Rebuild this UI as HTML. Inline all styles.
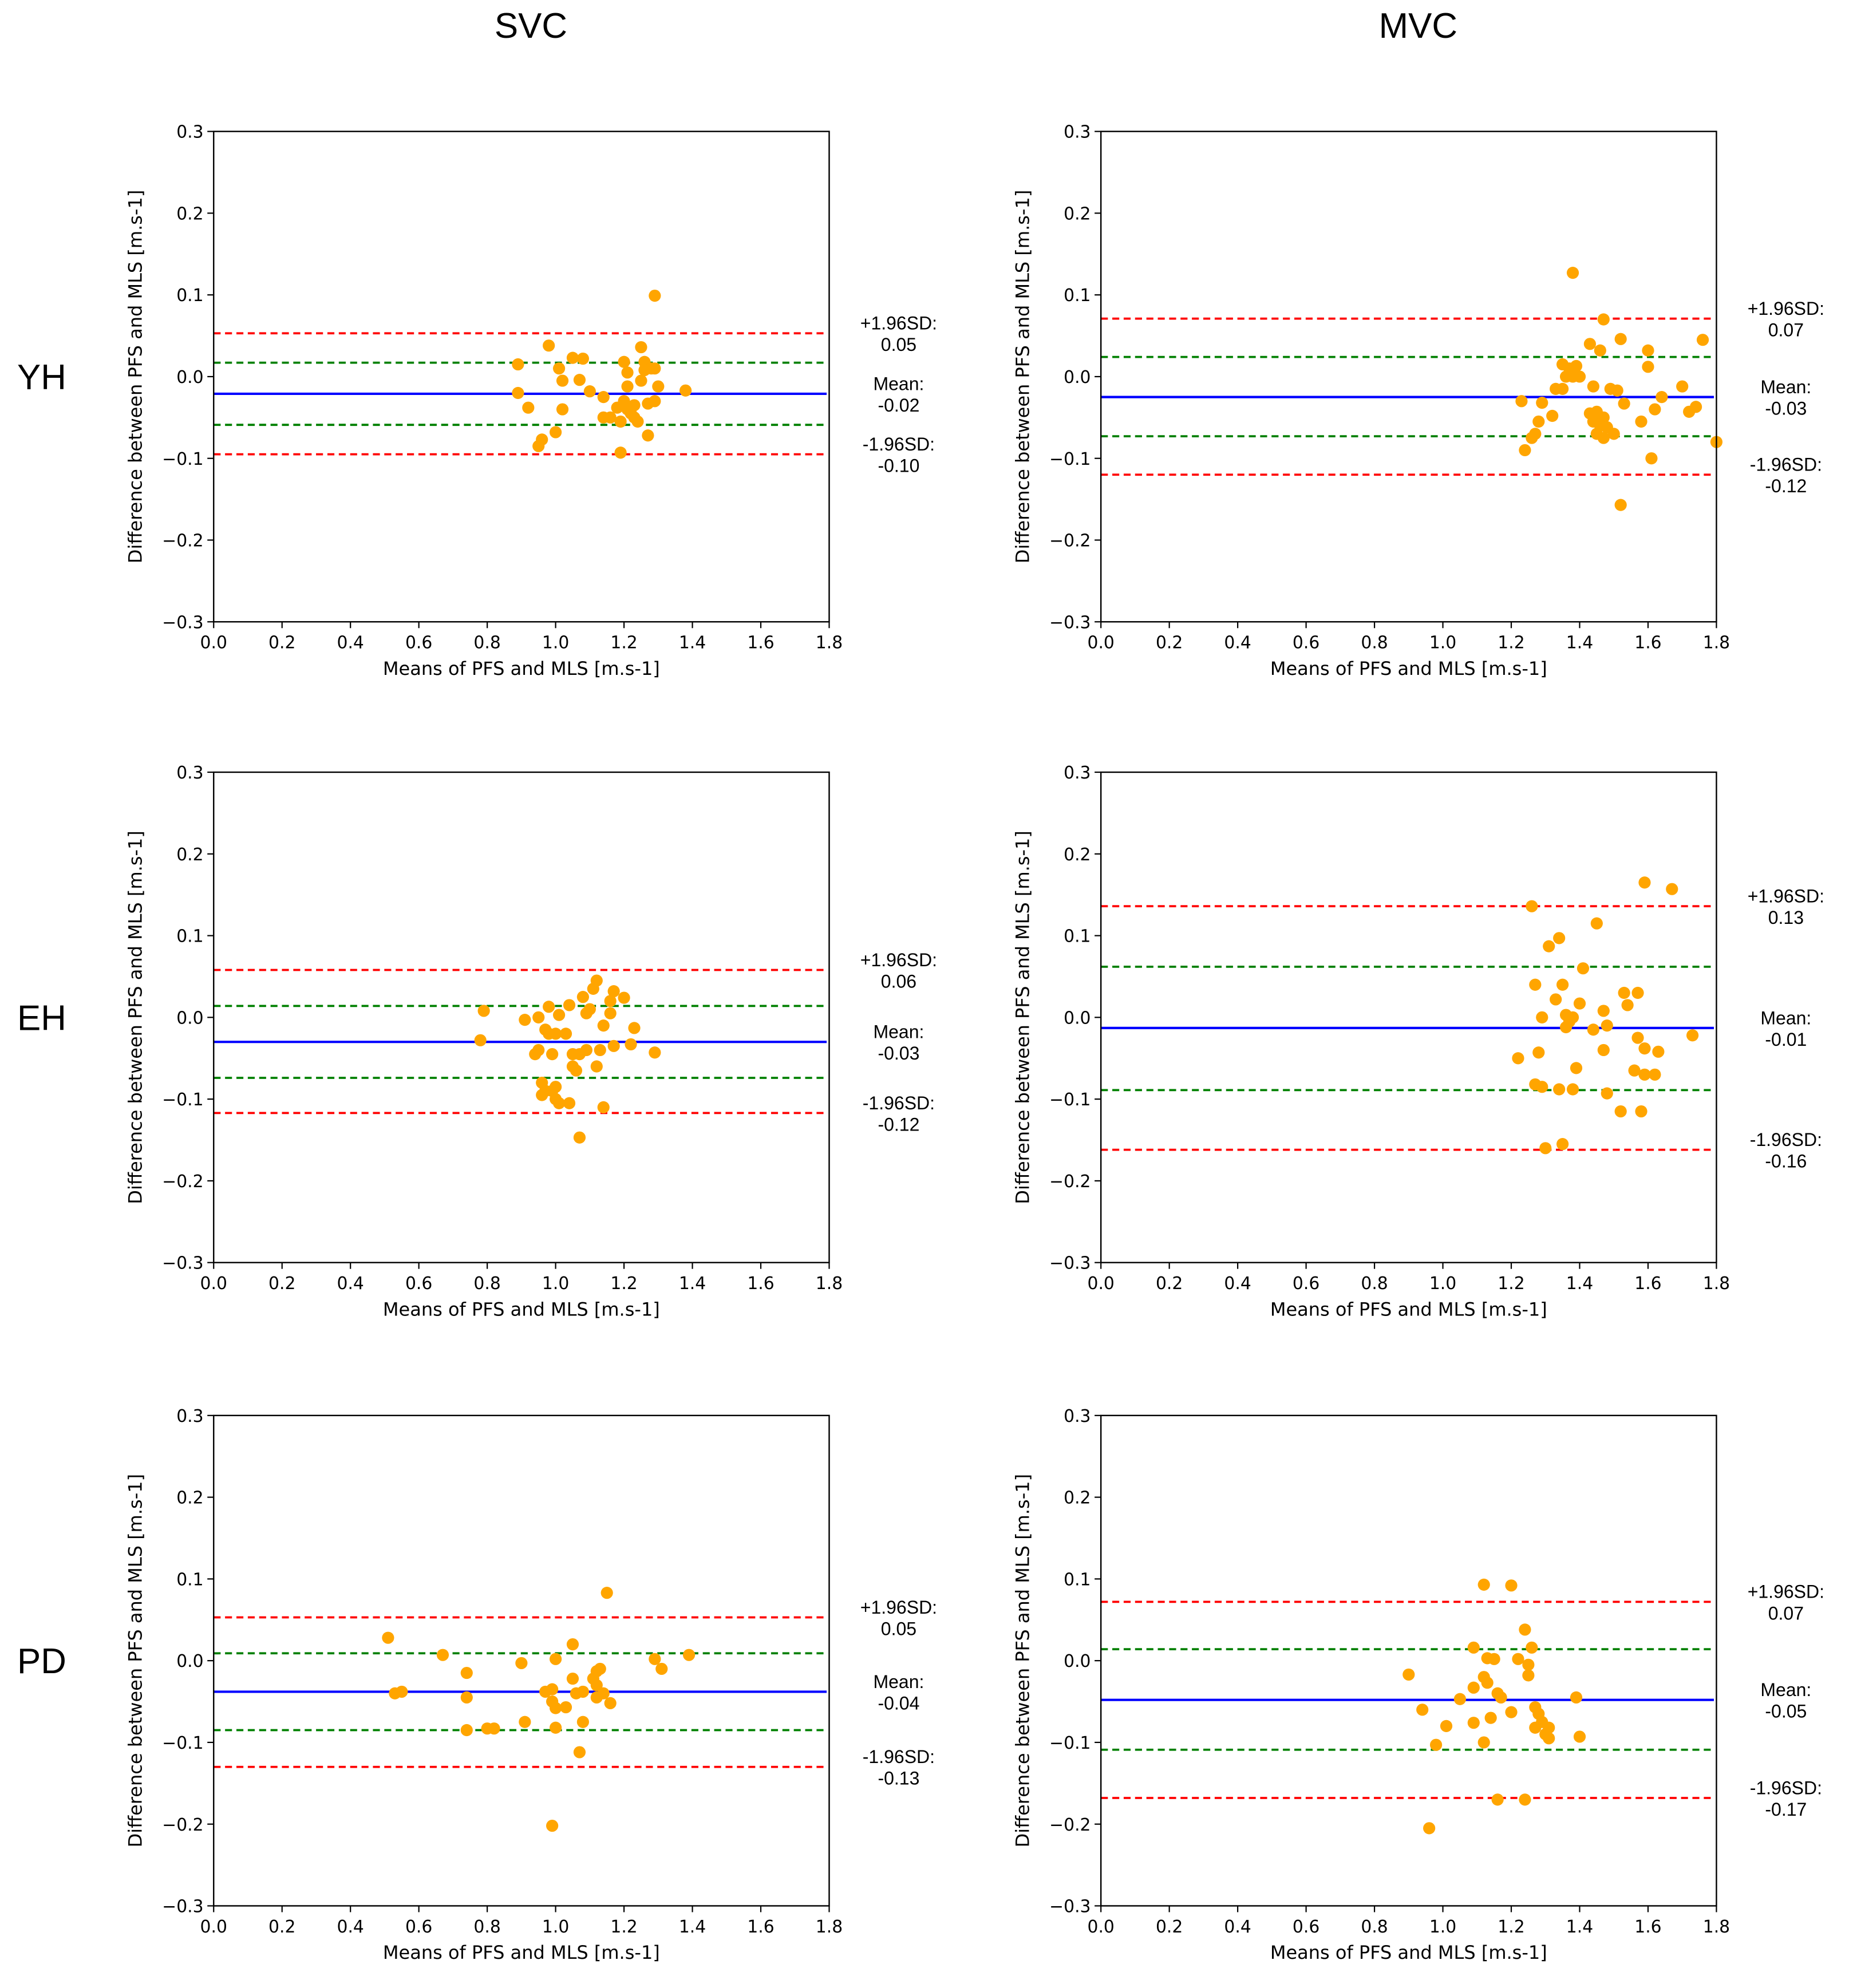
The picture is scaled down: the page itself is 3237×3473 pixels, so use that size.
<!DOCTYPE html>
<html><head><meta charset="utf-8"><style>
html,body{margin:0;padding:0;background:#fff;}
svg{display:block;font-family:"DejaVu Sans","Liberation Sans",sans-serif;}
</style></head><body>
<svg id="fig" width="3237" height="3473" viewBox="0 0 1466 1573" xmlns="http://www.w3.org/2000/svg">
<text x="420" y="30" font-size="28" text-anchor="middle" fill="#000" font-family="Liberation Sans, sans-serif">SVC</text>
<text x="1122" y="30" font-size="28" text-anchor="middle" fill="#000" font-family="Liberation Sans, sans-serif">MVC</text>
<text x="33" y="308" font-size="28" text-anchor="middle" fill="#000" font-family="Liberation Sans, sans-serif">YH</text>
<text x="33" y="815" font-size="28" text-anchor="middle" fill="#000" font-family="Liberation Sans, sans-serif">EH</text>
<text x="33" y="1324" font-size="28" text-anchor="middle" fill="#000" font-family="Liberation Sans, sans-serif">PD</text>
<g id="panels"></g>
</svg>
<script>
const xTicks = [0.0,0.2,0.4,0.6,0.8,1.0,1.2,1.4,1.6,1.8];
const yTicks = [-0.3,-0.2,-0.1,0.0,0.1,0.2,0.3];
const xLabel = "Means of PFS and MLS [m.s-1]";
const yLabel = "Difference between PFS and MLS [m.s-1]";

const yhSvcPts = [[0.89,0.015],[0.89,-0.02],[0.92,-0.038],[0.95,-0.085],[0.96,-0.077],[0.98,0.038],[1.0,-0.068],[1.01,0.01],[1.02,-0.005],[1.02,-0.04],[1.05,0.023],[1.07,-0.004],[1.08,0.022],[1.1,-0.018],[1.14,-0.025],[1.14,-0.05],[1.16,-0.05],[1.18,-0.038],[1.19,-0.055],[1.19,-0.093],[1.2,0.018],[1.2,-0.03],[1.21,0.005],[1.21,-0.012],[1.21,-0.04],[1.22,-0.045],[1.23,-0.035],[1.23,-0.05],[1.24,-0.055],[1.25,0.036],[1.25,-0.005],[1.26,0.018],[1.26,0.008],[1.27,-0.033],[1.27,-0.072],[1.28,0.01],[1.29,0.099],[1.29,0.01],[1.29,-0.03],[1.3,-0.012],[1.38,-0.017]];
const yhMvcPts = [[1.38,0.127],[1.47,0.07],[1.76,0.045],[1.52,0.046],[1.43,0.04],[1.46,0.032],[1.6,0.032],[1.6,0.012],[1.35,0.015],[1.37,0.01],[1.39,0.013],[1.36,0.0],[1.38,0.0],[1.40,0.0],[1.33,-0.015],[1.35,-0.015],[1.44,-0.012],[1.49,-0.015],[1.51,-0.017],[1.23,-0.03],[1.29,-0.032],[1.32,-0.048],[1.28,-0.055],[1.27,-0.07],[1.26,-0.075],[1.24,-0.09],[1.43,-0.045],[1.45,-0.043],[1.44,-0.055],[1.47,-0.05],[1.46,-0.06],[1.48,-0.062],[1.45,-0.07],[1.47,-0.075],[1.5,-0.07],[1.53,-0.033],[1.58,-0.055],[1.62,-0.04],[1.64,-0.025],[1.7,-0.012],[1.72,-0.043],[1.74,-0.037],[1.52,-0.157],[1.61,-0.1],[1.8,-0.08]];
const ehSvcPts = [[0.79,0.008],[0.78,-0.028],[0.91,-0.003],[0.95,0.0],[0.95,-0.04],[0.94,-0.045],[0.97,-0.015],[0.98,-0.02],[0.98,0.013],[0.99,-0.045],[1.0,-0.02],[1.01,0.003],[0.96,-0.08],[0.97,-0.09],[0.96,-0.095],[0.99,-0.09],[1.0,-0.085],[1.01,-0.105],[1.0,-0.1],[1.04,-0.105],[1.07,-0.147],[1.03,-0.02],[1.04,0.015],[1.05,-0.045],[1.05,-0.06],[1.06,-0.065],[1.07,-0.045],[1.08,0.025],[1.09,0.005],[1.09,-0.04],[1.1,0.01],[1.11,0.035],[1.12,0.045],[1.12,-0.06],[1.13,-0.04],[1.14,-0.11],[1.14,-0.01],[1.16,0.02],[1.16,0.005],[1.17,0.032],[1.17,-0.035],[1.2,0.024],[1.23,-0.013],[1.22,-0.033],[1.29,-0.043]];
const ehMvcPts = [[1.26,0.136],[1.59,0.165],[1.67,0.157],[1.45,0.115],[1.31,0.087],[1.34,0.097],[1.41,0.06],[1.27,0.04],[1.35,0.04],[1.53,0.03],[1.57,0.03],[1.54,0.015],[1.47,0.008],[1.29,0.0],[1.36,0.003],[1.38,0.0],[1.33,0.022],[1.40,0.017],[1.22,-0.05],[1.28,-0.043],[1.47,-0.04],[1.59,-0.038],[1.63,-0.042],[1.39,-0.062],[1.56,-0.065],[1.59,-0.07],[1.62,-0.07],[1.27,-0.082],[1.29,-0.085],[1.34,-0.088],[1.38,-0.088],[1.48,-0.093],[1.52,-0.115],[1.58,-0.115],[1.3,-0.16],[1.35,-0.155],[1.73,-0.022],[1.36,-0.012],[1.37,-0.005],[1.44,-0.015],[1.48,-0.01],[1.57,-0.025]];
const pdSvcPts = [[0.51,0.028],[0.53,-0.04],[0.55,-0.038],[0.67,0.007],[0.74,-0.015],[0.74,-0.045],[0.74,-0.085],[0.8,-0.083],[0.82,-0.083],[0.9,-0.003],[0.91,-0.075],[0.97,-0.038],[0.99,-0.035],[0.99,-0.202],[1.0,0.002],[0.99,-0.05],[1.0,-0.058],[1.0,-0.082],[1.03,-0.057],[1.05,0.02],[1.05,-0.022],[1.06,-0.04],[1.07,-0.112],[1.08,-0.075],[1.11,-0.022],[1.12,-0.013],[1.13,-0.01],[1.12,-0.03],[1.14,-0.04],[1.16,-0.052],[1.15,0.083],[1.29,0.002],[1.31,-0.01],[1.39,0.007],[1.08,-0.038],[1.12,-0.045]];
const pdMvcPts = [[1.12,0.093],[1.2,0.092],[1.24,0.038],[1.26,0.016],[1.09,0.016],[1.13,0.003],[1.15,0.002],[1.22,0.002],[1.25,-0.005],[1.25,-0.018],[0.9,-0.017],[1.12,-0.02],[1.13,-0.027],[1.16,-0.04],[1.09,-0.033],[1.17,-0.045],[1.05,-0.047],[1.39,-0.045],[0.94,-0.06],[1.2,-0.063],[1.27,-0.057],[1.28,-0.065],[1.29,-0.075],[1.14,-0.07],[1.09,-0.076],[1.01,-0.08],[1.27,-0.082],[1.31,-0.082],[1.3,-0.09],[1.31,-0.095],[1.4,-0.093],[0.98,-0.103],[1.12,-0.1],[1.16,-0.17],[1.24,-0.17],[0.96,-0.205]];

// [mean, lower green, upper green, lower 1.96SD, upper 1.96SD]
const yhSvcLines = [-0.021,-0.059,0.017,-0.095,0.053];
const yhMvcLines = [-0.025,-0.073,0.024,-0.120,0.071];
const ehSvcLines = [-0.030,-0.074,0.014,-0.117,0.058];
const ehMvcLines = [-0.013,-0.089,0.062,-0.162,0.136];
const pdSvcLines = [-0.038,-0.085,0.009,-0.130,0.053];
const pdMvcLines = [-0.048,-0.109,0.014,-0.168,0.072];

const yhSvcLabels = ["0.05","-0.02","-0.10"];
const yhMvcLabels = ["0.07","-0.03","-0.12"];
const ehSvcLabels = ["0.06","-0.03","-0.12"];
const ehMvcLabels = ["0.13","-0.01","-0.16"];
const pdSvcLabels = ["0.05","-0.04","-0.13"];
const pdMvcLabels = ["0.07","-0.05","-0.17"];

const NS = "http://www.w3.org/2000/svg";
const root = document.getElementById('panels');
function mk(tag, attrs, parent){const e=document.createElementNS(NS,tag);for(const k in attrs)e.setAttribute(k,attrs[k]);parent.appendChild(e);return e;}

function panel(id, x0, y0, pts, lines, labels){
  const W=487, H=388;
  const g = mk('g',{},root);
  
  
  const sx = v => x0 + (v-0)/(1.8)*W;
  const sy = v => y0 + H - (v+0.3)/0.6*H;
  xTicks.forEach(t=>{
    const X=sx(t);
    mk('line',{x1:X,y1:y0+H,x2:X,y2:y0+H+5,stroke:'#000','stroke-width':1},g);
    const tx=mk('text',{x:X,y:y0+H+21,'font-size':13.5,'text-anchor':'middle',fill:'#000'},g);
    tx.textContent=t.toFixed(1);
    
    
  });
  yTicks.forEach(t=>{
    const Y=sy(t);
    mk('line',{x1:x0-5,y1:Y,x2:x0,y2:Y,stroke:'#000','stroke-width':1},g);
    const tx=mk('text',{x:x0-8,y:Y+5,'font-size':13.5,'text-anchor':'end',fill:'#000'},g);
    tx.textContent=(t<0?'\u2212':'')+Math.abs(t).toFixed(1);
    
    
  });
  const specs=[[lines[3],'#ff0000',true],[lines[4],'#ff0000',true],[lines[1],'#008000',true],[lines[2],'#008000',true],[lines[0],'#0000ff',false]];
  specs.forEach((s,i)=>{
    const Y=sy(s[0]);
    const l=mk('line',{x1:x0,y1:Y,x2:x0+W-2,y2:Y,stroke:s[1],'stroke-width':s[2]?1.7:1.9},g);
    if(s[2]) l.setAttribute('stroke-dasharray','5.5,3.5');
    
    
  });
  pts.forEach(p=>{
    const c=mk('circle',{cx:sx(p[0]),cy:sy(p[1]),r:4.8,fill:'#ffa500'},g);
    
    
  });
  const fr=mk('rect',{x:x0,y:y0,width:W,height:H,fill:'none',stroke:'#000','stroke-width':1.1},g);
  
  
  const xl=mk('text',{x:x0+W/2,y:y0+H+42,'font-size':14.5,'text-anchor':'middle',fill:'#000'},g);
  xl.textContent=xLabel;
  
  
  const yl=mk('text',{x:0,y:0,'font-size':14.5,'text-anchor':'middle',fill:'#000',transform:`translate(${x0-57},${y0+H/2}) rotate(-90)`},g);
  yl.textContent=yLabel;
  
  
  const ax=x0+W+55;
  const ann=[["+1.96SD:",labels[0],lines[4]],["Mean:",labels[1],lines[0]],["-1.96SD:",labels[2],lines[3]]];
  ann.forEach(a=>{
    const Y=sy(a[2]);
    const t1=mk('text',{x:ax,y:Y-3,'font-size':14.5,'text-anchor':'middle',fill:'#000','font-family':'Liberation Sans, sans-serif'},g);
    t1.textContent=a[0];
    
    
    const t2=mk('text',{x:ax,y:Y+14,'font-size':14.5,'text-anchor':'middle',fill:'#000','font-family':'Liberation Sans, sans-serif'},g);
    t2.textContent=a[1];
    
    
  });
}
panel('yh-svc',169,104,yhSvcPts,yhSvcLines,yhSvcLabels);
panel('yh-mvc',871,104,yhMvcPts,yhMvcLines,yhMvcLabels);
panel('eh-svc',169,611,ehSvcPts,ehSvcLines,ehSvcLabels);
panel('eh-mvc',871,611,ehMvcPts,ehMvcLines,ehMvcLabels);
panel('pd-svc',169,1120,pdSvcPts,pdSvcLines,pdSvcLabels);
panel('pd-mvc',871,1120,pdMvcPts,pdMvcLines,pdMvcLabels);
</script>
</body></html>
